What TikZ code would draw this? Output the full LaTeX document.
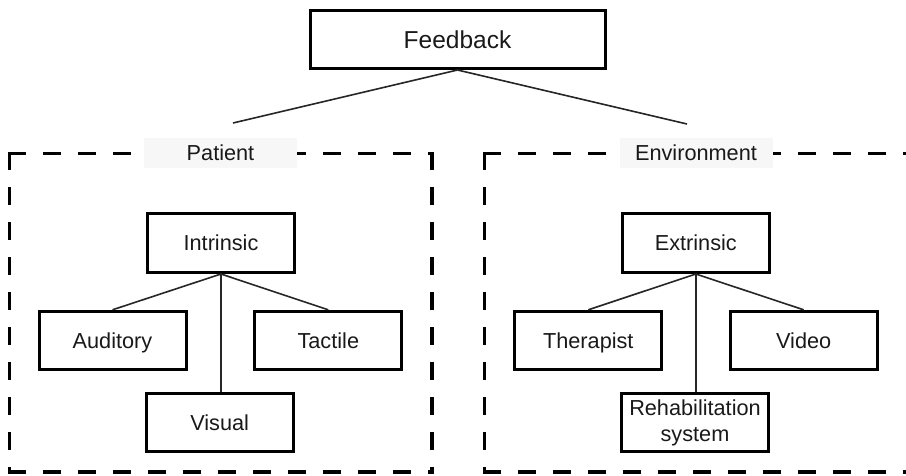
\documentclass[tikz,border=0pt]{standalone}
\usepackage{fontspec}
\setmainfont{Liberation Sans}
\begin{document}
\begin{tikzpicture}[x=1pt,y=-1pt,
  boxbase/.style={draw=black, line width=3pt, rectangle, inner sep=0pt,
    minimum width=147pt, minimum height=58pt, font=\fontsize{21.7}{26.5}\selectfont,
    text=black!90, align=center},
  box/.style={boxbase, text height=15.5pt, text depth=0pt},
  conn/.style={line width=1.6pt, draw=black!85},
  grpedge/.style={line width=3.2pt, line cap=rect, dash pattern=on 14.8pt off 20.2pt},
  grplabel/.style={fill=black!3, inner sep=0pt, minimum width=153pt, minimum height=30pt,
    text height=15.5pt, text depth=0pt,
    font=\fontsize{21.7}{26}\selectfont, text=black!90}
]
\useasboundingbox (0,0) rectangle (906,475);

% group outlines: Patient
\coordinate (pTL) at (9.5,153.5);
\coordinate (pTR) at (432,153.5);
\coordinate (pBL) at (9.5,472);
\coordinate (pBR) at (432,472);
\draw[grpedge] (pTL) -- (pTR);
\draw[grpedge] (pTL) -- (pBL);
\draw[grpedge] (pTR) -- (pBR);
\draw[grpedge] (pBL) -- (pBR);
% Environment
\coordinate (eTL) at (484.5,153.5);
\coordinate (eTR) at (907,153.5);
\coordinate (eBL) at (484.5,472);
\coordinate (eBR) at (907,472);
\draw[grpedge] (eTL) -- (eTR);
\draw[grpedge] (eTL) -- (eBL);
\draw[grpedge, draw=black!40, line width=1.6pt] (eTR) -- (eBR);
\draw[grpedge] (eBL) -- (eBR);

% group labels
\node[grplabel] (patient) at (220.5,153) {Patient};
\node[grplabel] (environment) at (696,153) {Environment};

% top node
\node[box, minimum width=295pt, minimum height=58pt, text height=17.5pt, font=\fontsize{24.5}{29}\selectfont] (fb) at (457.5,39.5) {Feedback};
\coordinate (fbL) at (233,123);
\coordinate (fbR) at (687,124);
\draw[conn] (fb.south) -- (fbL);
\draw[conn] (fb.south) -- (fbR);

% Patient subtree
\node[box, minimum height=59pt] (intr) at (221,243) {Intrinsic};
\node[box] (aud) at (112.5,340.3) {Auditory};
\node[box] (tac) at (328.3,340.3) {Tactile};
\node[box] (vis) at (219.7,422.8) {Visual};
\draw[conn] (intr.south) -- (aud.north);
\draw[conn] (intr.south) -- (tac.north);
\draw[conn] (intr.south) -- (vis.north -| intr.south);

% Environment subtree
\node[box, minimum height=59pt] (extr) at (695.8,243) {Extrinsic};
\node[box] (ther) at (588.3,340.3) {Therapist};
\node[box] (vid) at (803.7,340.3) {Video};
\node[boxbase] (reh) at (695,422.8) {Rehabilitation\\system};
\draw[conn] (extr.south) -- (ther.north);
\draw[conn] (extr.south) -- (vid.north);
\draw[conn] (extr.south) -- (reh.north -| extr.south);
\end{tikzpicture}
\end{document}
